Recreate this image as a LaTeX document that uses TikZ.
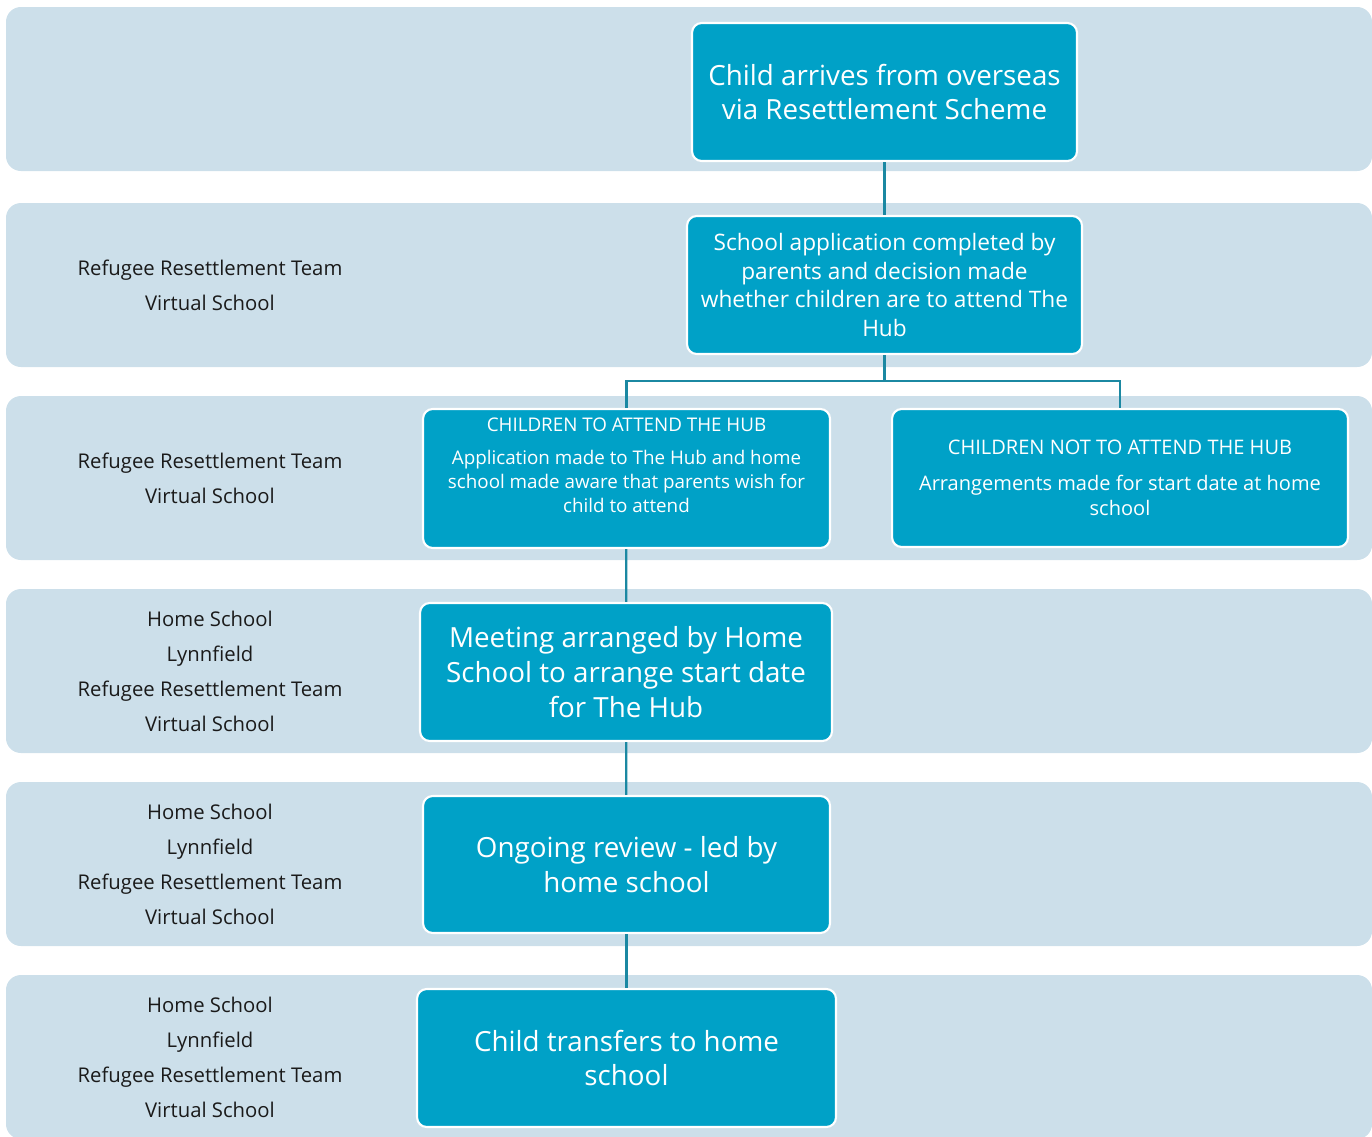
\documentclass[tikz,border=0pt]{standalone}
\usepackage{fontspec}
\setmainfont{Open Sans}
\definecolor{bandblue}{HTML}{CCDFEA}
\definecolor{boxteal}{HTML}{00A1C7}
\definecolor{linkteal}{HTML}{1B88A2}
\definecolor{labelgrey}{HTML}{1A1A1A}
\newcommand{\bigtxt}{\fontsize{15.8}{19.9}\selectfont}
\newcommand{\midtxt}{\fontsize{12.9}{16.2}\selectfont}
\newcommand{\smalltxt}{\fontsize{10.7}{13.7}\selectfont}
\newcommand{\bandtxt}{\fontsize{11.55}{19.9}\selectfont}

\begin{document}
\begin{tikzpicture}[x=0.02cm,y=-0.02cm,
  flowbox/.style={draw=white,line width=1.2pt,fill=boxteal,rounded corners=5.5pt,
    text=white,align=center,inner sep=0pt,minimum height=2.76cm},
  boxtext/.style={text=white,align=center,inner sep=0pt},
  bandlabel/.style={text=labelgrey,align=center,font=\bandtxt,inner sep=0pt},
  link/.style={draw=linkteal,line width=1.3pt}]
\useasboundingbox (0,0) rectangle (1372,1136);
\clip (0,0) rectangle (1372,1136);

% Background bands
\foreach \t in {7,203,396,589,782,975}
  \fill[bandblue,rounded corners=8.5pt] (6,\t) rectangle (1372,\t+164);

% Who is involved
\node[bandlabel] (team2) at (210,285) {Refugee Resettlement Team\\Virtual School};
\node[bandlabel] (team3) at (210,478) {Refugee Resettlement Team\\Virtual School};
\node[bandlabel] (team4) at (210,671) {Home School\\Lynnfield\\Refugee Resettlement Team\\Virtual School};
\node[bandlabel] (team5) at (210,864) {Home School\\Lynnfield\\Refugee Resettlement Team\\Virtual School};
\node[bandlabel] (team6) at (210,1057) {Home School\\Lynnfield\\Refugee Resettlement Team\\Virtual School};

% Flow boxes
\node[flowbox,minimum width=7.70cm,font=\bigtxt] (arrive) at (884.5,92)
  {Child arrives from overseas\\via Resettlement Scheme};
\node[flowbox,minimum width=7.90cm,font=\midtxt] (apply) at (884.5,285)
  {School application completed by\\parents and decision made\\whether children are to attend The\\Hub};
\node[flowbox,minimum width=8.14cm,minimum height=2.78cm] (hubbox) at (626.5,478.5) {};
\node[boxtext,font=\smalltxt] (hubtext) at (626.5,465)
  {CHILDREN TO ATTEND THE HUB\\[5pt]Application made to The Hub and home\\school made aware that parents wish for\\child to attend};
\node[flowbox,minimum width=9.12cm,font=\fontsize{11.4}{14.2}\selectfont] (nohub) at (1120,478)
  {CHILDREN NOT TO ATTEND THE HUB\\[6.5pt]Arrangements made for start date at home\\school};
\node[flowbox,minimum width=8.24cm,font=\bigtxt] (meeting) at (626,672)
  {Meeting arranged by Home\\School to arrange start date\\for The Hub};
\node[flowbox,minimum width=8.14cm,minimum height=2.74cm,font=\bigtxt] (review) at (626.5,864.5)
  {Ongoing review - led by\\home school};
\node[flowbox,minimum width=8.38cm,font=\bigtxt] (transfer) at (626.5,1058)
  {Child transfers to home\\school};

% Connectors
\coordinate (split) at (884.5,381);
\draw[link] (arrive) -- (apply);
\draw[link] (apply) -- (split);
\draw[link] (split) -| (hubbox.north);
\draw[link] (split) -| (nohub.north);
\draw[link] (hubbox) -- (meeting);
\draw[link] (meeting) -- (review);
\draw[link] (review) -- (transfer);
\end{tikzpicture}
\end{document}
